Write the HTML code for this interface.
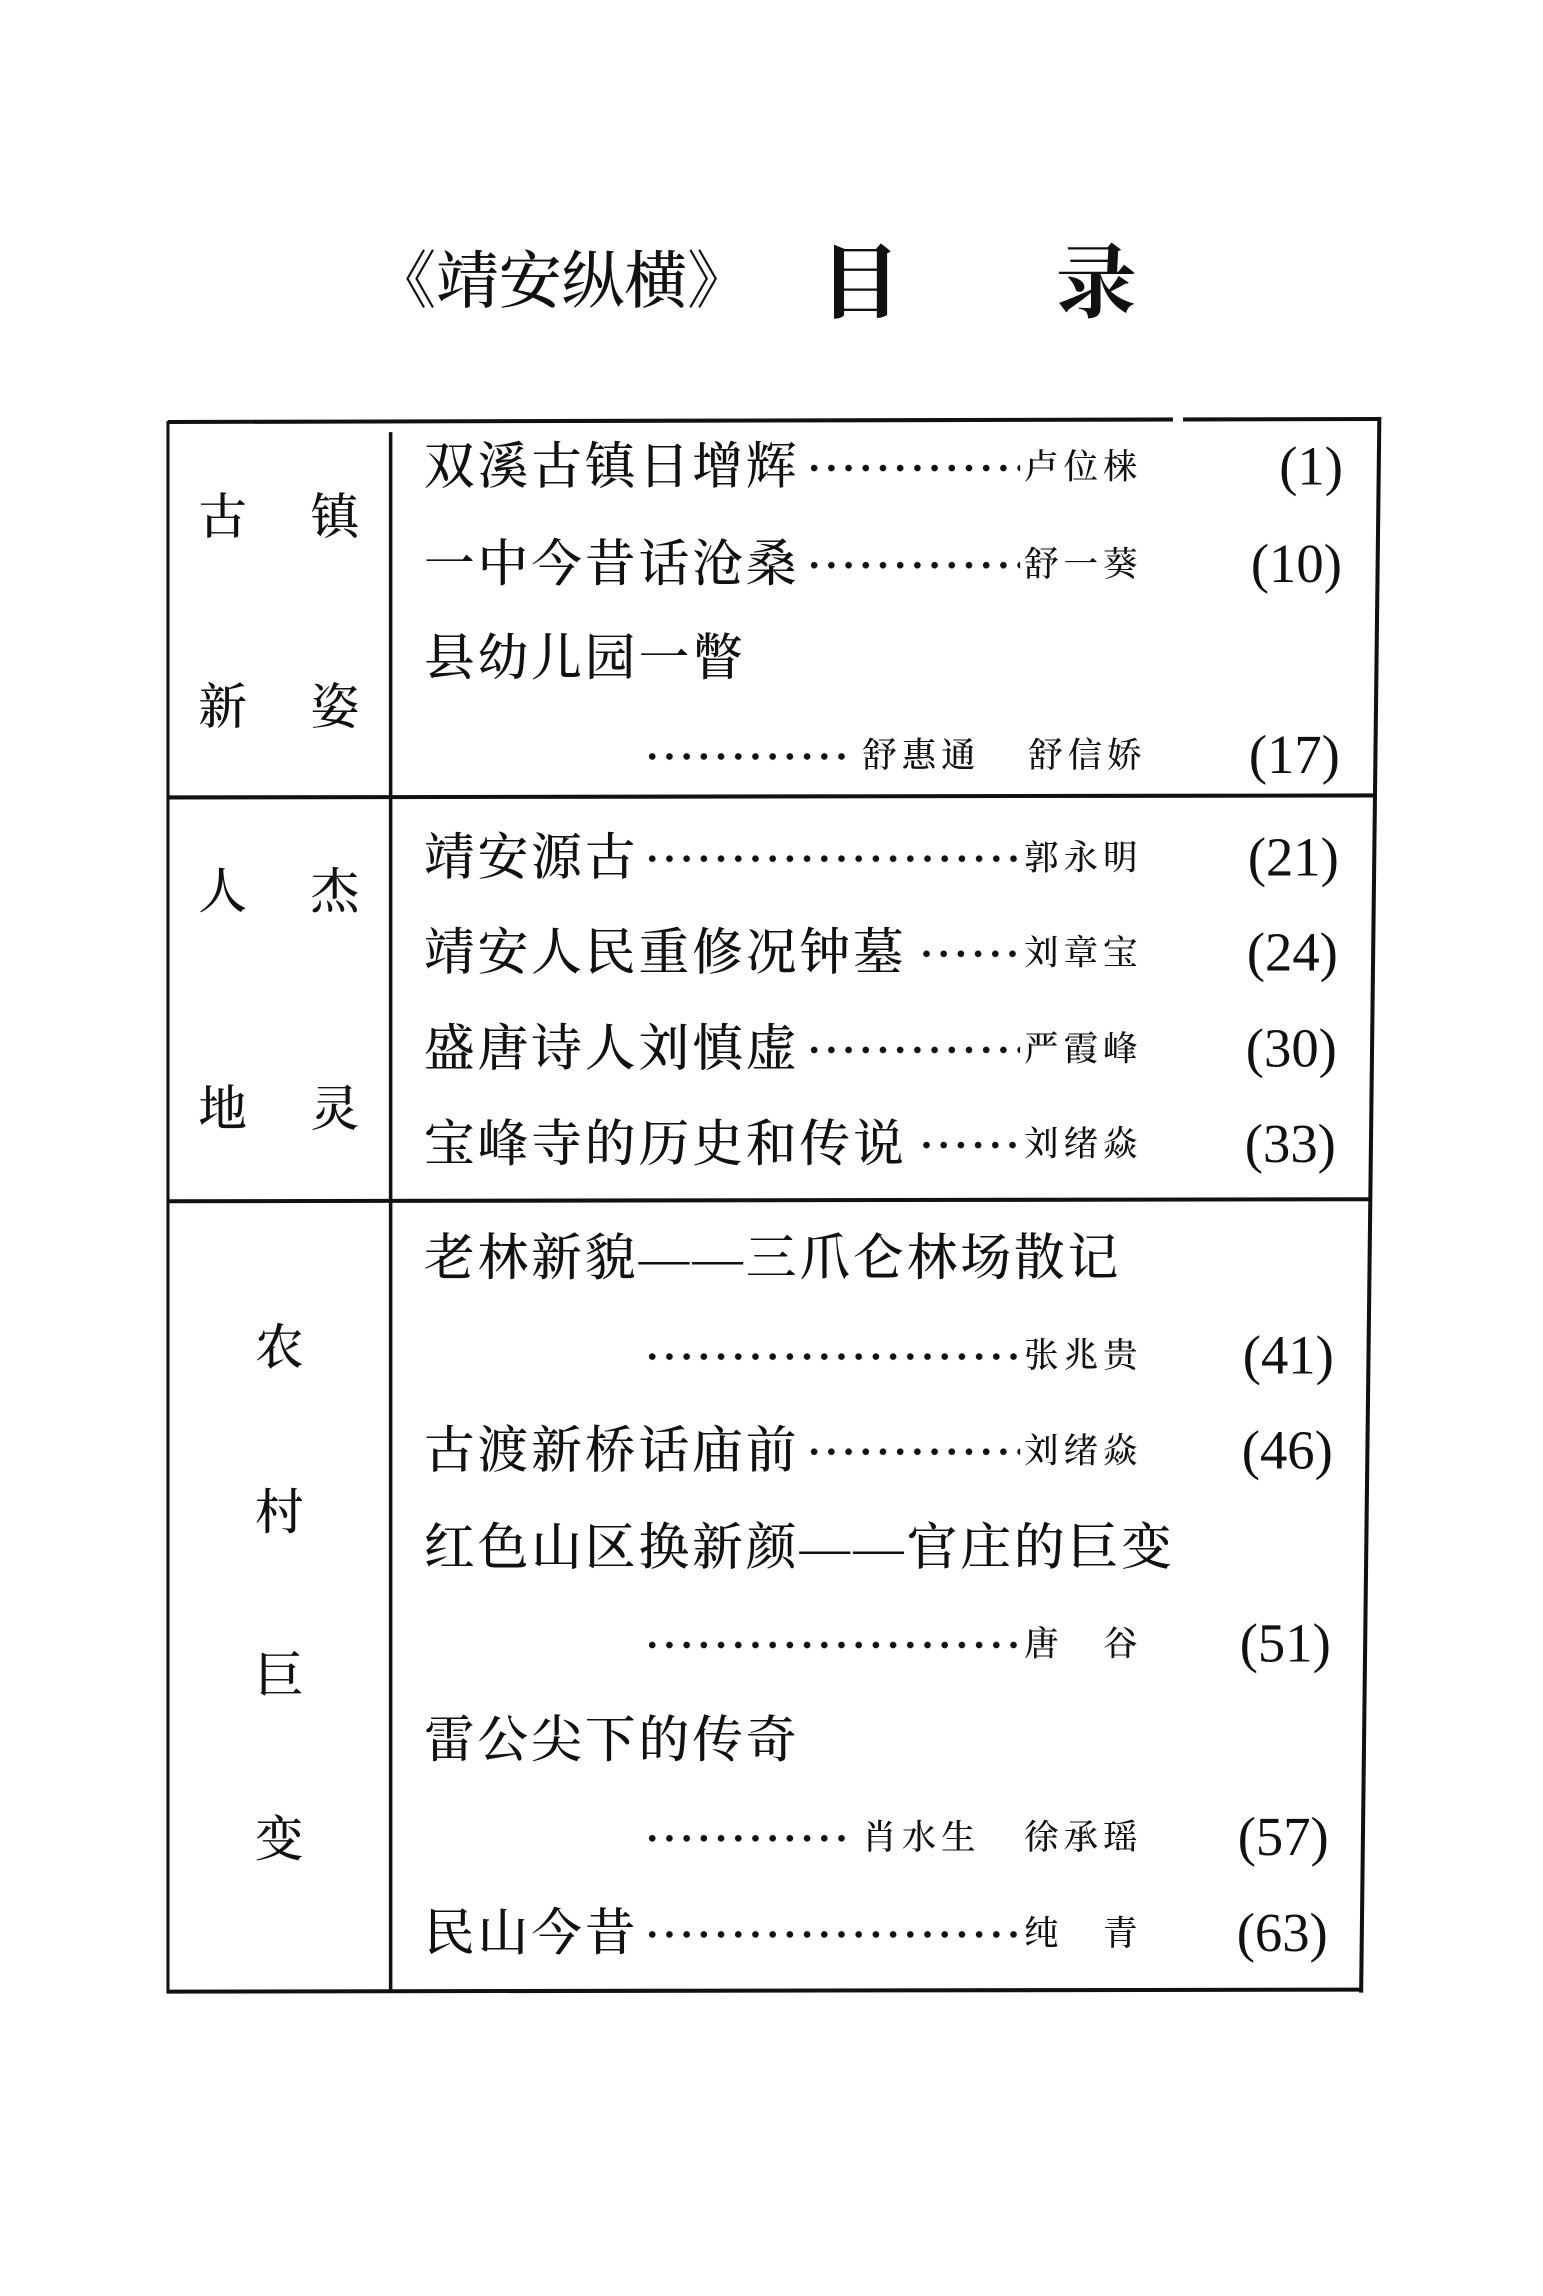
<!DOCTYPE html>
<html><head><meta charset="utf-8"><style>
html,body{margin:0;padding:0;background:#fff;}
body{width:1543px;height:2269px;position:relative;overflow:hidden;font-family:"Liberation Serif","Noto Serif CJK SC",serif;color:#111;}
#w{position:absolute;left:0;top:0;width:1543px;height:2269px;transform:scale(1.012);transform-origin:0 0;}
.a{position:absolute;white-space:nowrap;line-height:1;}
.t{font-size:50px;letter-spacing:3px;font-weight:500;}
.au{font-size:34px;letter-spacing:5px;font-weight:500;}
.pg{font-size:54px;font-family:"Liberation Serif",serif;}
.cat{font-size:48px;font-weight:500;}
.d{position:absolute;height:9px;background-image:radial-gradient(circle,#111 3px,transparent 3.5px);background-size:17px 9px;background-repeat:repeat-x;}
.ln{position:absolute;background:#111;}
</style></head><body><div id="w">
<div class="a" style="left:369px;top:248px;font-size:62px;font-weight:500;">《靖安纵横》</div>
<div class="a" style="left:810px;top:242px;font-size:80px;font-weight:bold;">目</div>
<div class="a" style="left:1043px;top:242px;font-size:80px;font-weight:bold;">录</div>

<svg style="position:absolute;left:0;top:0;" width="1543" height="2269">
<line x1="166" y1="417" x2="1364" y2="414" stroke="#111" stroke-width="4"/>
<line x1="166" y1="1968" x2="1346" y2="1966" stroke="#111" stroke-width="4"/>
<line x1="1363" y1="412" x2="1345" y2="1969" stroke="#111" stroke-width="4"/>
<line x1="166" y1="416" x2="166" y2="1970" stroke="#111" stroke-width="3"/>
<line x1="386" y1="427" x2="386" y2="1968" stroke="#111" stroke-width="3.5"/>
<line x1="166" y1="788" x2="1358" y2="786" stroke="#111" stroke-width="4"/>
<line x1="166" y1="1187" x2="1354" y2="1185" stroke="#111" stroke-width="4"/>
<rect x="1159" y="410" width="10" height="10" fill="#fff"/>
</svg>

<div class="a cat" style="left:196px;top:488px;">古</div>
<div class="a cat" style="left:307px;top:488px;">镇</div>
<div class="a cat" style="left:196px;top:676px;">新</div>
<div class="a cat" style="left:307px;top:676px;">姿</div>
<div class="a cat" style="left:196px;top:858px;">人</div>
<div class="a cat" style="left:307px;top:858px;">杰</div>
<div class="a cat" style="left:196px;top:1073px;">地</div>
<div class="a cat" style="left:307px;top:1073px;">灵</div>
<div class="a cat" style="left:252px;top:1309px;">农</div>
<div class="a cat" style="left:252px;top:1472px;">村</div>
<div class="a cat" style="left:252px;top:1633px;">巨</div>
<div class="a cat" style="left:252px;top:1795px;">变</div>

<div class="a t" style="left:419px;top:436px;">双溪古镇日增辉</div>
<div class="d" style="left:796px;top:458px;width:212px;"></div>
<div class="a au" style="left:1012px;top:446px;">卢位梾</div>
<div class="a pg" style="top:434px;right:216px;">(1)</div>

<div class="a t" style="left:419px;top:532px;">一中今昔话沧桑</div>
<div class="d" style="left:796px;top:554px;width:212px;"></div>
<div class="a au" style="left:1012px;top:542px;">舒一葵</div>
<div class="a pg" style="top:530px;right:217px;">(10)</div>

<div class="a t" style="left:419px;top:625px;">县幼儿园一瞥</div>

<div class="d" style="left:636px;top:743px;width:208px;"></div>
<div class="a au" style="left:852px;top:731px;">舒惠通</div>
<div class="a au" style="left:1016px;top:731px;">舒信娇</div>
<div class="a pg" style="top:719px;right:219px;">(17)</div>

<div class="a t" style="left:419px;top:822px;">靖安源古</div>
<div class="d" style="left:636px;top:844px;width:372px;"></div>
<div class="a au" style="left:1012px;top:832px;">郭永明</div>
<div class="a pg" style="top:820px;right:220px;">(21)</div>

<div class="a t" style="left:419px;top:916px;">靖安人民重修况钟墓</div>
<div class="d" style="left:907px;top:938px;width:101px;"></div>
<div class="a au" style="left:1012px;top:926px;">刘章宝</div>
<div class="a pg" style="top:914px;right:221px;">(24)</div>

<div class="a t" style="left:419px;top:1011px;">盛唐诗人刘慎虚</div>
<div class="d" style="left:796px;top:1033px;width:212px;"></div>
<div class="a au" style="left:1012px;top:1021px;">严霞峰</div>
<div class="a pg" style="top:1009px;right:222px;">(30)</div>

<div class="a t" style="left:419px;top:1105px;">宝峰寺的历史和传说</div>
<div class="d" style="left:907px;top:1127px;width:101px;"></div>
<div class="a au" style="left:1012px;top:1115px;">刘绪焱</div>
<div class="a pg" style="top:1103px;right:223px;">(33)</div>

<div class="a t" style="left:419px;top:1218px;">老林新貌——三爪仑林场散记</div>
<div class="d" style="left:636px;top:1336px;width:372px;"></div>
<div class="a au" style="left:1012px;top:1324px;">张兆贵</div>
<div class="a pg" style="top:1312px;right:225px;">(41)</div>

<div class="a t" style="left:419px;top:1408px;">古渡新桥话庙前</div>
<div class="d" style="left:796px;top:1430px;width:212px;"></div>
<div class="a au" style="left:1012px;top:1418px;">刘绪焱</div>
<div class="a pg" style="top:1406px;right:226px;">(46)</div>

<div class="a t" style="left:419px;top:1504px;">红色山区换新颜——官庄的巨变</div>
<div class="d" style="left:636px;top:1621px;width:372px;"></div>
<div class="a au" style="left:1012px;top:1609px;">唐　谷</div>
<div class="a pg" style="top:1597px;right:228px;">(51)</div>

<div class="a t" style="left:419px;top:1694px;">雷公尖下的传奇</div>
<div class="d" style="left:636px;top:1812px;width:208px;"></div>
<div class="a au" style="left:852px;top:1800px;">肖水生</div>
<div class="a au" style="left:1012px;top:1800px;">徐承瑶</div>
<div class="a pg" style="top:1788px;right:230px;">(57)</div>

<div class="a t" style="left:419px;top:1885px;">民山今昔</div>
<div class="d" style="left:636px;top:1907px;width:372px;"></div>
<div class="a au" style="left:1012px;top:1895px;">纯　青</div>
<div class="a pg" style="top:1883px;right:231px;">(63)</div>
</div></body></html>
